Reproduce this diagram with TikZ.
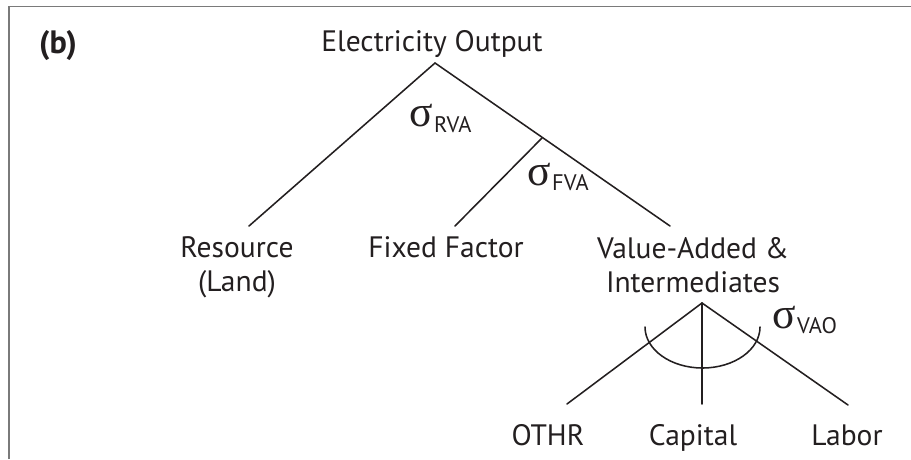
\documentclass[tikz,border=0pt]{standalone}
\usepackage{fontspec}
\setmainfont{PT Sans}
\newfontfamily\greekfont{Liberation Serif}
\usepackage{xcolor}
\usetikzlibrary{positioning}
\definecolor{inkA}{HTML}{231F20}
\definecolor{grayA}{HTML}{7A7A7A}
\tikzset{
  branch/.style={draw=inkA, line width=1.1pt, line cap=round},
  leaf/.style={
    align=center, inner sep=0pt, anchor=base, text=inkA,
    font=\fontsize{21}{24}\selectfont
  },
  elast/.style={inner sep=0pt, anchor=base west, text=inkA},
  frame/.style={draw=grayA, line width=1.3pt}
}
\newcommand{\elas}[1]{{\greekfont\fontsize{31}{31}\selectfont σ}\kern1pt\raisebox{-0.8ex}{\fontsize{16}{16}\selectfont #1}}

\begin{document}
\begin{tikzpicture}[x=0.025cm, y=-0.025cm]
  \useasboundingbox (0,0) rectangle (911,459);
  \draw[frame] (9,459) -- (9,6.5) -- (911,6.5);

  \node[leaf, font=\fontsize{23}{24}\selectfont\bfseries] (panel) at (58,54) {(b)};
  \node[leaf] (output) at (432,52) {Electricity Output};

  \coordinate (top) at (435,63);
  \coordinate (fvanode) at (542,138);
  \coordinate (vainode) at (702,303);

  \node[leaf] (resource) at (237,291) {Resource\\(Land)};
  \node[leaf] (fixed) at (446,257) {Fixed Factor};
  \node[leaf] (va) at (693,292) {Value-Added \&\\Intermediates};
  \node[leaf] (othr) at (548,445) {OTHR};
  \node[leaf] (capital) at (693,445) {Capital};
  \node[leaf] (labor) at (847,445) {Labor};

  \coordinate (resend) at (249,226);
  \coordinate (fixend) at (455,226);
  \coordinate (vaend) at (670,226);
  \coordinate (othrend) at (567,404);
  \coordinate (capend) at (702,404);
  \coordinate (labend) at (848,405);

  \draw[branch] (resend) -- (top) -- (vaend);
  \draw[branch] (fvanode) -- (fixend);
  \draw[branch] (othrend) -- (vainode) -- (labend);
  \draw[branch] (vainode) -- (capend);
  \draw[branch] (645,327) arc[start angle=180, end angle=0, x radius=57.5, y radius=41];

  \node[elast] (srva) at (409,127) {\elas{RVA}};
  \node[elast] (sfva) at (527,185) {\elas{FVA}};
  \node[elast] (svao) at (772,328) {\elas{VAO}};
\end{tikzpicture}
\end{document}
